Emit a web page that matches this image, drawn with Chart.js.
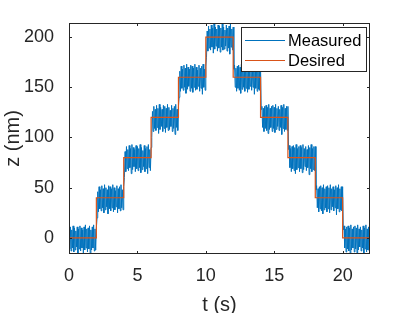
<!DOCTYPE html>
<html>
<head>
    <script src="https://cdn.jsdelivr.net/npm/chart.js@4.4.1/dist/chart.umd.min.js"></script>
    <style>
        body { margin: 0; background: #fff; }
    </style>
</head>
<body>
<canvas id="myChart" width="409" height="313"></canvas>

<script>
    // time step of the measured trace (s)
    const dt = 0.05;
    // measured z (nm), one sample every dt (2 s per row pair)
    const measured = [
        9, -11, 11, -13, 8, -10, 12, -14, 10, -12, 7, -9, 11, -16, 9, -11, 12, -13, 10, -10,
        8, -15, 11, -12, 13, -10, 9, -14, 10, -11, 12, -17, 8, -12, 11, -10, 13, -13, 9, -12,
        10, 20, 46, 26, 51, 29, 48, 27, 52, 30, 49, 25, 53, 28, 50, 31, 48, 24, 52, 29,
        51, 27, 49, 30, 53, 26, 50, 28, 47, 31, 52, 25, 49, 29, 51, 27, 53, 30, 48, 28,
        51, 60, 86, 66, 91, 69, 88, 67, 92, 70, 89, 64, 93, 68, 90, 71, 88, 66, 92, 69,
        91, 67, 89, 70, 93, 65, 90, 68, 87, 71, 92, 66, 89, 69, 91, 64, 93, 70, 88, 67,
        90, 100, 126, 106, 131, 109, 128, 107, 132, 110, 129, 104, 133, 108, 130, 111, 128, 106, 132, 109,
        131, 105, 129, 110, 133, 107, 130, 108, 127, 111, 132, 106, 129, 109, 131, 103, 133, 110, 128, 107,
        131, 140, 166, 146, 171, 149, 168, 147, 172, 150, 169, 144, 173, 148, 170, 151, 168, 146, 172, 149,
        171, 145, 169, 150, 173, 147, 170, 148, 167, 151, 172, 146, 169, 149, 171, 143, 173, 150, 168, 147,
        171, 180, 206, 186, 211, 189, 208, 187, 212, 190, 209, 184, 213, 188, 210, 191, 208, 186, 212, 189,
        211, 185, 209, 190, 213, 187, 210, 188, 207, 191, 212, 186, 209, 189, 211, 183, 213, 190, 208, 187,
        210, 168, 172, 150, 169, 146, 171, 149, 172, 147, 170, 144, 173, 148, 169, 150, 171, 146, 172, 149,
        170, 145, 173, 148, 169, 151, 171, 147, 168, 150, 172, 143, 170, 149, 173, 146, 169, 148, 171, 147,
        171, 128, 131, 110, 129, 106, 131, 109, 132, 107, 130, 104, 133, 108, 129, 110, 131, 106, 132, 109,
        130, 105, 133, 108, 129, 111, 131, 107, 128, 110, 132, 103, 130, 109, 133, 106, 129, 108, 131, 107,
        131, 88, 92, 70, 89, 66, 91, 69, 92, 67, 90, 64, 93, 68, 89, 70, 91, 66, 92, 69,
        90, 65, 93, 68, 89, 71, 91, 67, 88, 70, 92, 63, 90, 69, 93, 66, 89, 68, 91, 67,
        91, 48, 52, 30, 49, 26, 51, 29, 52, 27, 50, 24, 53, 28, 49, 30, 51, 26, 52, 29,
        50, 25, 53, 28, 49, 31, 51, 27, 48, 30, 52, 23, 50, 29, 53, 26, 49, 28, 51, 27,
        51, 8, 12, -10, 9, -14, 11, -11, 12, -13, 10, -16, 13, -12, 9, -10, 11, -14, 12, -11,
        10, -15, 13, -12, 9, -9, 11, -13, 8, -10, 12, -17, 10, -11, 13, -14, 9, -12, 11, -13,
        10
    ];
    // desired staircase: start time of each step and its level
    const stepT = [0, 2, 4, 6, 8, 10, 12, 14, 16, 18, 20, 22];
    const stepZ = [0, 40, 80, 120, 160, 200, 160, 120, 80, 40, 0, 0];

    const xTicks = [0, 5, 10, 15, 20];
    const yTicks = [0, 50, 100, 150, 200];
    const seriesNames = ["Measured", "Desired"];
    const seriesColors = ["#0072BD", "#D95319"];
    const axisColor = "#262626";
    const fontFamily = "'Liberation Sans', Arial, sans-serif";

    // inward ticks on all four sides plus the box
    const boxTicks = {
        id: "boxTicks",
        afterDatasetsDraw(chart) {
            const {ctx, chartArea: a, scales: {x, y}} = chart;
            const len = 3;
            ctx.save();
            ctx.strokeStyle = axisColor;
            ctx.lineWidth = 1;
            ctx.beginPath();
            xTicks.forEach(v => {
                const px = Math.round(x.getPixelForValue(v)) + 0.5;
                ctx.moveTo(px, a.bottom); ctx.lineTo(px, a.bottom - len);
                ctx.moveTo(px, a.top); ctx.lineTo(px, a.top + len);
            });
            yTicks.forEach(v => {
                const py = Math.round(y.getPixelForValue(v)) + 0.5;
                ctx.moveTo(a.left, py); ctx.lineTo(a.left + len, py);
                ctx.moveTo(a.right, py); ctx.lineTo(a.right - len, py);
            });
            ctx.stroke();
            ctx.strokeRect(a.left + 0.5, a.top + 0.5, a.width - 1, a.height - 1);
            ctx.restore();
        },
        afterDraw(chart) {
            // boxed legend in the upper right corner, MATLAB style
            const {ctx, chartArea: a} = chart;
            const w = 126, h = 45;
            const left = a.right - 3 - w, top = a.top + 4;
            ctx.save();
            ctx.fillStyle = "#fff";
            ctx.fillRect(left, top, w, h);
            ctx.strokeStyle = axisColor;
            ctx.lineWidth = 1;
            ctx.strokeRect(left + 0.5, top + 0.5, w - 1, h - 1);
            ctx.font = "16.5px " + fontFamily;
            ctx.textBaseline = "middle";
            chart.data.datasets.forEach((ds, i) => {
                const cy = top + 13 + i * 20;
                ctx.strokeStyle = ds.borderColor;
                ctx.beginPath();
                ctx.moveTo(left + 4, cy + 0.5);
                ctx.lineTo(left + 44, cy + 0.5);
                ctx.stroke();
                ctx.fillStyle = "#000";
                ctx.fillText(ds.label, left + 47, cy + 1);
            });
            ctx.restore();
        }
    };

    const myChart = new Chart("myChart", {
        type: "line",
        data: {
            datasets: [{
                label: seriesNames[0],
                data: measured.map((z, i) => ({x: i * dt, y: z})),
                borderColor: seriesColors[0],
                borderWidth: 1,
                pointRadius: 0,
                order: 1
            }, {
                label: seriesNames[1],
                data: stepT.map((t, i) => ({x: t, y: stepZ[i]})),
                borderColor: seriesColors[1],
                borderWidth: 1.2,
                pointRadius: 0,
                stepped: true,
                order: 0
            }]
        },
        options: {
            responsive: false,
            animation: false,
            layout: {padding: {left: 0, right: 39, top: 23, bottom: 0}},
            plugins: {
                legend: {display: false},
                tooltip: {enabled: false}
            },
            scales: {
                x: {
                    type: "linear",
                    min: 0,
                    max: 22,
                    afterBuildTicks: s => { s.ticks = xTicks.map(v => ({value: v})); },
                    afterFit: s => { s.height = 59; },
                    grid: {display: false},
                    border: {display: false},
                    ticks: {color: axisColor, padding: 3, font: {size: 18, family: fontFamily}, maxRotation: 0},
                    title: {display: true, text: "t (s)", color: axisColor, padding: {top: 0, bottom: -4}, font: {size: 20, family: fontFamily}}
                },
                y: {
                    type: "linear",
                    min: -16,
                    max: 214,
                    afterBuildTicks: s => { s.ticks = yTicks.map(v => ({value: v})); },
                    afterFit: s => { s.width = 69; },
                    grid: {display: false},
                    border: {display: false},
                    ticks: {color: axisColor, padding: 7, font: {size: 18, family: fontFamily}},
                    title: {display: true, text: "z (nm)", color: axisColor, padding: 1, font: {size: 20, family: fontFamily}}
                }
            }
        },
        plugins: [boxTicks]
    });
</script>
</body>
</html>
